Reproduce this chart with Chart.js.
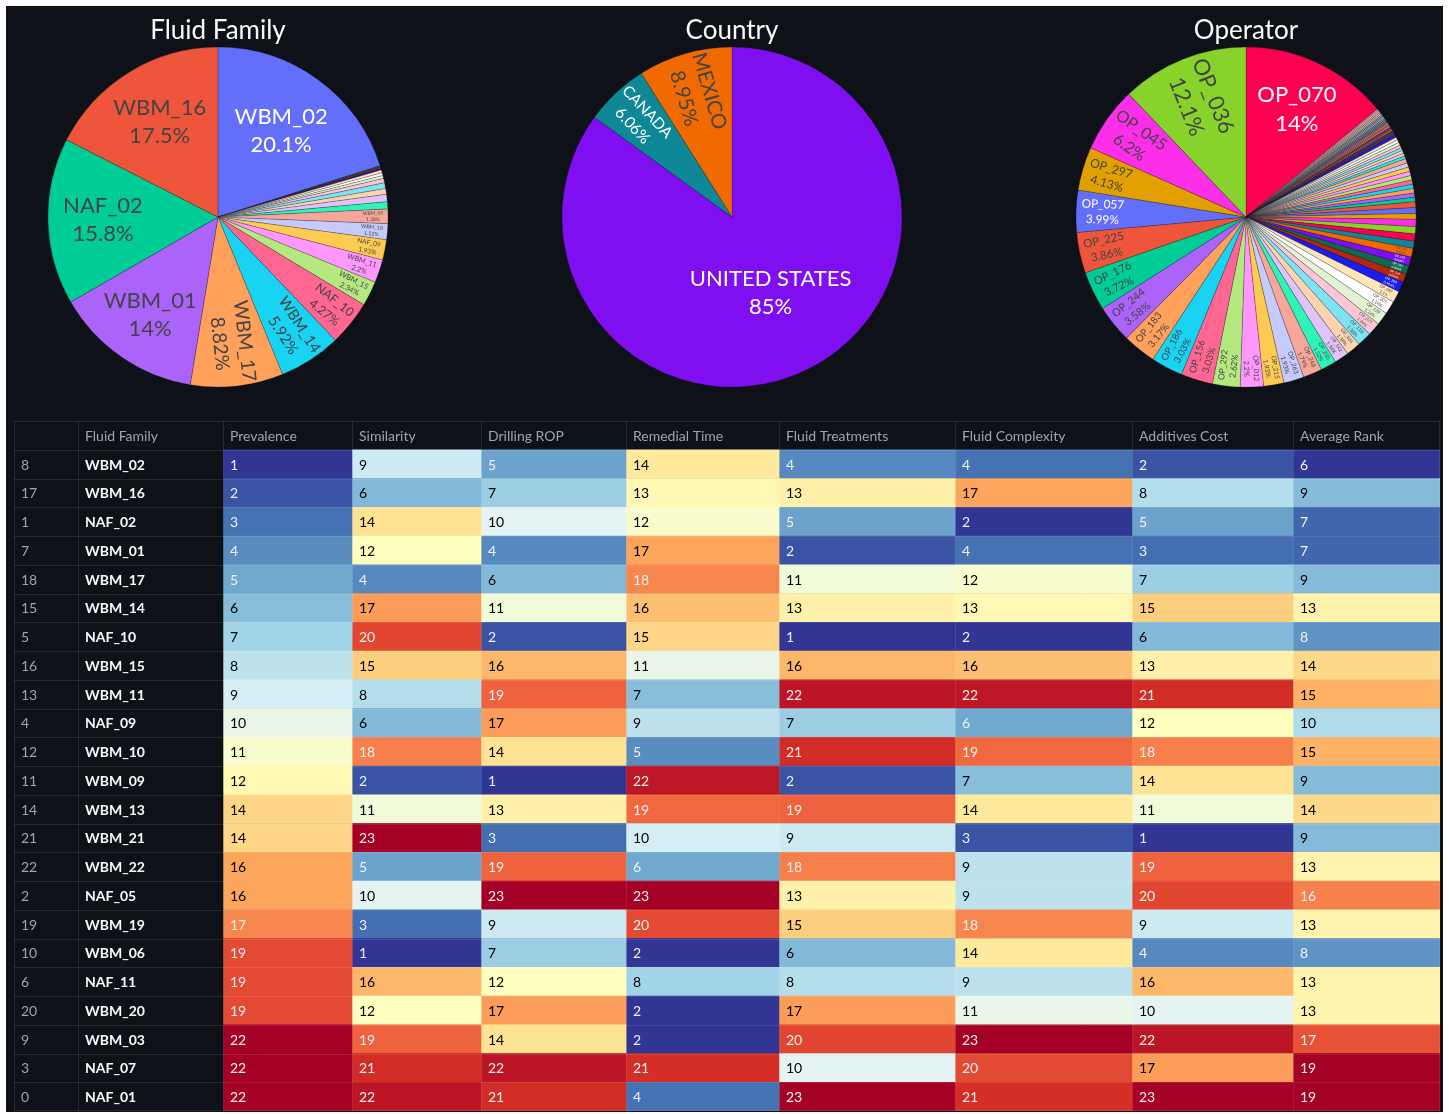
<!DOCTYPE html>
<html>
<head>
<meta charset="utf-8">
<title>Fluid ranking</title>
<script src="https://cdn.jsdelivr.net/npm/chart.js@4.4.1/dist/chart.umd.min.js"></script>
<style>
  body { margin: 0; background: #ffffff; }
  #board { position: absolute; left: 6px; top: 6px; width: 1437px; height: 1106px; background: #0e1117; overflow: hidden; }
  .pie { position: absolute; top: 0; }
  #rankTable { position: absolute; left: 8px; top: 415px; }
</style>
</head>
<body>
<div id="board">
  <canvas id="familyPie" class="pie" width="400" height="400" style="left:12px"></canvas>
  <canvas id="countryPie" class="pie" width="400" height="400" style="left:526px"></canvas>
  <canvas id="operatorPie" class="pie" width="400" height="400" style="left:1040px"></canvas>
  <canvas id="rankTable" width="1426" height="690"></canvas>
</div>
<script>
// well counts per fluid family, country and operator (descending)
const familyLabels = ['WBM_02', 'WBM_16', 'NAF_02', 'WBM_01', 'WBM_17', 'WBM_14', 'NAF_10', 'WBM_15', 'WBM_11', 'NAF_09',
    'WBM_10', 'WBM_09', 'WBM_13', 'WBM_21', 'WBM_22', 'NAF_05', 'WBM_19', 'WBM_06', 'NAF_11', 'WBM_20', 'WBM_03', 'NAF_07', 'NAF_01'];
const familyWells = [146, 127, 115, 102, 64, 43, 31, 17, 16, 14, 11, 10, 5, 5, 4, 4, 3, 2, 2, 2, 1, 1, 1];

const countryLabels = ['UNITED STATES', 'MEXICO', 'CANADA'];
const countryWells = [617, 65, 44];

const operatorLabels = ['OP_070', 'OP_036', 'OP_045', 'OP_297', 'OP_057', 'OP_225', 'OP_176', 'OP_244', 'OP_183', 'OP_186',
    'OP_156', 'OP_292', 'OP_012', 'OP_215', 'OP_263', 'OP_248', 'OP_230', 'OP_142', 'OP_104', 'OP_118',
    'OP_077', 'OP_139', 'OP_201', 'OP_089', 'OP_280', 'OP_167', 'OP_055', 'OP_122', 'OP_093', 'OP_210',
    'OP_031', 'OP_258', 'OP_064', 'OP_190', 'OP_003', 'OP_111', 'OP_147', 'OP_272', 'OP_018', 'OP_236',
    'OP_081', 'OP_154', 'OP_299', 'OP_042', 'OP_127', 'OP_206', 'OP_068', 'OP_171', 'OP_250', 'OP_099',
    'OP_135', 'OP_023', 'OP_284', 'OP_160', 'OP_219', 'OP_007', 'OP_029', 'OP_049', 'OP_061', 'OP_074',
    'OP_086', 'OP_095', 'OP_108', 'OP_115', 'OP_131', 'OP_149', 'OP_158', 'OP_174', 'OP_188', 'OP_197',
    'OP_213', 'OP_227', 'OP_241', 'OP_266', 'OP_277', 'OP_289'];
const operatorWells = [102, 88, 45, 30, 29, 28, 27, 26, 23, 22,
    22, 19, 16, 14, 14, 13, 11, 10, 10, 10,
    9, 9, 9, 8, 7, 6, 6, 6, 6, 5,
    5, 5, 5, 4, 4, 4, 3, 3, 3, 3,
    3, 3, 3, 3, 3, 3, 2, 2, 2, 2,
    2, 2, 2, 2, 2, 1, 1, 1, 1, 1,
    1, 1, 1, 1, 1, 1, 1, 1, 1, 1,
    1, 1, 1, 1, 1, 1];

// ranking table
const rowIndex = [8, 17, 1, 7, 18, 15, 5, 16, 13, 4, 12, 11, 14, 21, 22, 2, 19, 10, 6, 20, 9, 3, 0];
const fluidFamily = ['WBM_02', 'WBM_16', 'NAF_02', 'WBM_01', 'WBM_17', 'WBM_14', 'NAF_10', 'WBM_15', 'WBM_11', 'NAF_09', 'WBM_10', 'WBM_09',
    'WBM_13', 'WBM_21', 'WBM_22', 'NAF_05', 'WBM_19', 'WBM_06', 'NAF_11', 'WBM_20', 'WBM_03', 'NAF_07', 'NAF_01'];
const prevalence = [1, 2, 3, 4, 5, 6, 7, 8, 9, 10, 11, 12, 14, 14, 16, 16, 17, 19, 19, 19, 22, 22, 22];
const similarity = [9, 6, 14, 12, 4, 17, 20, 15, 8, 6, 18, 2, 11, 23, 5, 10, 3, 1, 16, 12, 19, 21, 22];
const drillingRop = [5, 7, 10, 4, 6, 11, 2, 16, 19, 17, 14, 1, 13, 3, 19, 23, 9, 7, 12, 17, 14, 22, 21];
const remedialTime = [14, 13, 12, 17, 18, 16, 15, 11, 7, 9, 5, 22, 19, 10, 6, 23, 20, 2, 8, 2, 2, 21, 4];
const fluidTreatments = [4, 13, 5, 2, 11, 13, 1, 16, 22, 7, 21, 2, 19, 9, 18, 13, 15, 6, 8, 17, 20, 10, 23];
const fluidComplexity = [4, 17, 2, 4, 12, 13, 2, 16, 22, 6, 19, 7, 14, 3, 9, 9, 18, 14, 9, 11, 23, 20, 21];
const additivesCost = [2, 8, 5, 3, 7, 15, 6, 13, 21, 12, 18, 14, 11, 1, 19, 20, 9, 4, 16, 10, 22, 17, 23];
const averageRank = [6, 9, 7, 7, 9, 13, 8, 14, 15, 10, 15, 9, 14, 9, 13, 16, 13, 8, 13, 13, 17, 19, 19];

const FONT = '"Source Sans Pro", Lato, sans-serif';
const BG = '#0e1117';

// shared slice colours, each pie starts at its own offset
const palette = ['#636EFA', '#EF553B', '#00CC96', '#AB63FA', '#FFA15A', '#19D3F3', '#FF6692', '#B6E880', '#FF97FF', '#FECB52',
    '#C6CAFD', '#F7A799', '#2FF3B8', '#E0C3F9', '#FED4B0', '#7DE4F3', '#FEC6D4', '#E2F3D3', '#FFFFFF', '#FFE5B8',
    '#1A1CF0', '#B3260F', '#0E6A4A', '#7F0EF0', '#F06A00', '#0E8797', '#FF0050', '#87D22B', '#FC2EEA', '#E2A000'];

function pct(v, total) {
    return parseFloat((v / total * 100).toPrecision(3)) + '%';
}

function textColor(hex) {
    const n = parseInt(hex.slice(1), 16);
    const b = ((n >> 16) * 299 + ((n >> 8) & 255) * 587 + (n & 255) * 114) / 1000;
    return b < 128 ? '#ffffff' : '#444444';
}

// approximate advance widths (1/1000 em) of Source Sans, used to size label boxes
// so the orientation choice doesn't depend on the fallback face
const glyphWidth = {A: 544, B: 589, C: 571, D: 615, E: 527, F: 494, G: 617, H: 652, I: 266, K: 579, L: 486, M: 727,
    N: 647, O: 664, P: 576, R: 582, S: 536, T: 534, U: 645, W: 786, X: 513, Y: 476, _: 500, '.': 249, '%': 817, ' ': 200};
function labelWidth(text, size) {
    let em = 0;
    for (const ch of text) em += glyphWidth[ch] || (ch >= '0' && ch <= '9' ? 497 : 520);
    return em / 1000 * size * 1.035;
}

// inside-label placement: try horizontal, tangential and radial text and keep the largest
const TEXTPAD = 3;
function halfSize(a, half, r) {
    const q = a + 1 / (2 * Math.tan(half));
    return r * Math.min(1 / (Math.sqrt(q * q + 0.5) + q), 1 / (Math.sqrt(a * a + 0.5) + a));
}
function turn(t) {
    return ((180 / Math.PI * t + 720) % 180) - 90;
}
function fitText(w, h, r, half, mid) {
    const rIn = Math.min(1 / (1 + 1 / Math.sin(Math.min(half, Math.PI / 2))), 0.5);
    const flat = {scale: rIn * r * 2 / Math.hypot(w, h), rCenter: 1 - rIn, rotate: 0};
    if (flat.scale >= 1) return flat;
    const rr = Math.max(0, r - 2 * TEXTPAD);
    const tanS = halfSize(h / w, half, rr);
    const tan = {scale: tanS * 2 / w, rotate: turn(mid + Math.PI / 2), a: h / w, ext: w / 2};
    const radS = halfSize(w / h, half, rr);
    const rad = {scale: radS * 2 / h, rotate: turn(mid), a: w / h, ext: h / 2};
    let best = flat;
    [tan, rad].forEach(t => { if (t.scale > best.scale) best = t; });
    if (best !== flat) {
        const b = Math.min(1, best.scale) * best.ext / rr;
        best.rCenter = (Math.cos(b) - best.a * b) * rr / r;
    }
    return best;
}

const sliceText = {
    id: 'sliceText',
    afterDatasetsDraw(chart) {
        const ctx = chart.ctx;
        const ds = chart.data.datasets[0];
        const total = ds.data.reduce((s, v) => s + v, 0);
        const base = 22;
        chart.getDatasetMeta(0).data.forEach((arc, i) => {
            const p = arc.getProps(['x', 'y', 'startAngle', 'endAngle', 'outerRadius']);
            const lines = [chart.data.labels[i], pct(ds.data[i], total)];
            const w = Math.max(...lines.map(t => labelWidth(t, base)));
            const h = base * (1.3 * (lines.length - 1) + 1.34);
            const half = (p.endAngle - p.startAngle) / 2;
            const mid = (p.startAngle + p.endAngle) / 2 + Math.PI / 2;
            const t = fitText(w, h, p.outerRadius, half, mid);
            const size = base * Math.min(1, t.scale);
            if (size < 3) return;
            const rc = t.rCenter * p.outerRadius;
            ctx.save();
            ctx.translate(p.x + rc * Math.sin(mid), p.y - rc * Math.cos(mid));
            ctx.rotate(t.rotate * Math.PI / 180);
            ctx.font = size + 'px ' + FONT;
            ctx.fillStyle = textColor(ds.backgroundColor[i]);
            ctx.textAlign = 'center';
            ctx.textBaseline = 'middle';
            lines.forEach((line, k) => {
                ctx.fillText(line, 0, (k - (lines.length - 1) / 2) * 1.3 * size);
            });
            ctx.restore();
        });
    }
};

function pieChart(id, title, labels, counts, offset) {
    // biggest slice first from 12 o'clock, then the rest from smallest to largest
    const order = [0].concat(counts.map((v, i) => i).slice(1).reverse());
    return new Chart(document.getElementById(id), {
        type: 'pie',
        data: {
            labels: order.map(i => labels[i]),
            datasets: [{
                data: order.map(i => counts[i]),
                backgroundColor: order.map(i => palette[(offset + i) % palette.length]),
                borderWidth: 0.5,
                borderColor: 'rgba(14,17,23,0.45)',
                radius: 170
            }]
        },
        options: {
            responsive: false,
            animation: false,
            layout: {padding: {bottom: 19}},
            plugins: {
                legend: {display: false},
                tooltip: {enabled: false},
                title: {
                    display: true,
                    text: title,
                    color: '#fafafa',
                    font: {family: FONT, size: 26, weight: 'normal'},
                    padding: {top: 9, bottom: 1}
                }
            }
        },
        plugins: [sliceText]
    });
}

pieChart('familyPie', 'Fluid Family', familyLabels, familyWells, 0);
pieChart('countryPie', 'Country', countryLabels, countryWells, 23);
pieChart('operatorPie', 'Operator', operatorLabels, operatorWells, 26);

// Table drawn as stacked horizontal bars, one dataset per column
const rdylbu = ['#313695', '#4575b4', '#74add1', '#abd9e9', '#e0f3f8', '#ffffbf', '#fee090', '#fdae61', '#f46d43', '#d73027', '#a50026'];
function gradient(v, lo, hi) {
    const t = hi > lo ? (v - lo) / (hi - lo) : 0;
    const x = t * (rdylbu.length - 1);
    const k = Math.min(Math.floor(x), rdylbu.length - 2);
    const f = x - k;
    const a = parseInt(rdylbu[k].slice(1), 16), b = parseInt(rdylbu[k + 1].slice(1), 16);
    const ch = s => Math.round(((a >> s) & 255) * (1 - f) + ((b >> s) & 255) * f);
    return '#' + [16, 8, 0].map(s => ch(s).toString(16).padStart(2, '0')).join('');
}
function lum(hex) {
    const n = parseInt(hex.slice(1), 16);
    const lin = c => { c /= 255; return c <= 0.04045 ? c / 12.92 : Math.pow((c + 0.055) / 1.055, 2.4); };
    return 0.2126 * lin(n >> 16) + 0.7152 * lin((n >> 8) & 255) + 0.0722 * lin(n & 255);
}

const columns = [
    {title: '', values: rowIndex, kind: 'index', width: 64},
    {title: 'Fluid Family', values: fluidFamily, kind: 'name', width: 145},
    {title: 'Prevalence', values: prevalence, kind: 'rank', width: 129},
    {title: 'Similarity', values: similarity, kind: 'rank', width: 129},
    {title: 'Drilling ROP', values: drillingRop, kind: 'rank', width: 145},
    {title: 'Remedial Time', values: remedialTime, kind: 'rank', width: 153},
    {title: 'Fluid Treatments', values: fluidTreatments, kind: 'rank', width: 176},
    {title: 'Fluid Complexity', values: fluidComplexity, kind: 'rank', width: 177},
    {title: 'Additives Cost', values: additivesCost, kind: 'rank', width: 161},
    {title: 'Average Rank', values: averageRank, kind: 'rank', width: 147}
];
const tableWidth = columns.reduce((s, c) => s + c.width, 0);
const rowLabels = ['header'].concat(fluidFamily);

columns.forEach(col => {
    const lo = Math.min(...col.values), hi = Math.max(...col.values);
    col.fill = [BG].concat(col.values.map(v => col.kind === 'rank' ? gradient(v, lo, hi) : BG));
});

const cellText = {
    id: 'cellText',
    afterDatasetsDraw(chart) {
        const ctx = chart.ctx;
        const area = chart.chartArea;
        ctx.save();
        ctx.textBaseline = 'middle';
        ctx.textAlign = 'left';
        chart.data.datasets.forEach((ds, c) => {
            const col = columns[c];
            chart.getDatasetMeta(c).data.forEach((bar, r) => {
                const left = Math.min(bar.base, bar.x);
                let text, color, weight = 'normal';
                if (r === 0) {
                    text = col.title; color = '#a0a4ad';
                } else if (col.kind === 'index') {
                    text = String(col.values[r - 1]); color = '#a0a4ad';
                } else if (col.kind === 'name') {
                    text = col.values[r - 1]; color = '#fafafa'; weight = 'bold';
                } else {
                    text = String(col.values[r - 1]);
                    color = lum(col.fill[r]) < 0.408 ? '#f1f1f1' : '#000000';
                }
                ctx.font = weight + ' 14px ' + FONT;
                ctx.fillStyle = color;
                ctx.fillText(text, left + 7, bar.y + 1);
            });
        });
        // grid lines
        ctx.strokeStyle = 'rgba(250,250,250,0.1)';
        ctx.lineWidth = 1;
        ctx.beginPath();
        const first = chart.getDatasetMeta(0).data;
        first.forEach(bar => {
            const top = Math.round(bar.y - bar.height / 2) + 0.5;
            ctx.moveTo(area.left, top);
            ctx.lineTo(area.right, top);
        });
        ctx.moveTo(area.left, area.bottom - 0.5);
        ctx.lineTo(area.right, area.bottom - 0.5);
        chart.data.datasets.forEach((ds, c) => {
            const bar = chart.getDatasetMeta(c).data[0];
            const left = Math.round(Math.min(bar.base, bar.x)) + 0.5;
            ctx.moveTo(left, area.top);
            ctx.lineTo(left, area.bottom);
        });
        ctx.moveTo(area.right - 0.5, area.top);
        ctx.lineTo(area.right - 0.5, area.bottom);
        ctx.stroke();
        ctx.restore();
    }
};

new Chart(document.getElementById('rankTable'), {
    type: 'bar',
    data: {
        labels: rowLabels,
        datasets: columns.map(col => ({
            label: col.title,
            data: rowLabels.map(() => col.width),
            backgroundColor: col.fill,
            borderWidth: 0,
            barPercentage: 1,
            categoryPercentage: 1
        }))
    },
    options: {
        indexAxis: 'y',
        responsive: false,
        animation: false,
        layout: {padding: 0},
        scales: {
            x: {stacked: true, min: 0, max: tableWidth, display: false},
            y: {stacked: true, display: false}
        },
        plugins: {legend: {display: false}, tooltip: {enabled: false}}
    },
    plugins: [cellText]
});
</script>
</body>
</html>
